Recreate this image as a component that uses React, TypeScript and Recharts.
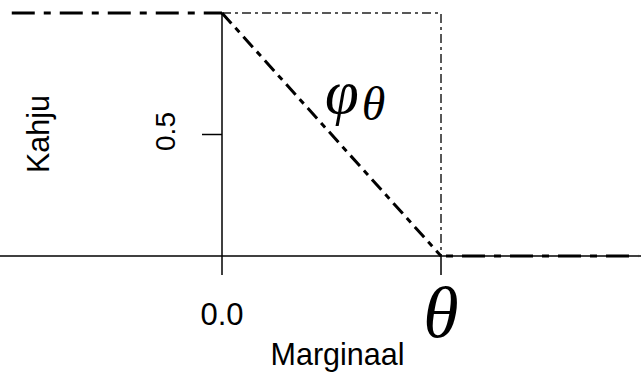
import { ComposedChart, Line, XAxis, YAxis, ReferenceLine, ReferenceDot, Customized } from 'recharts';

// step-shaped loss function: flat at 1, linear down to 0 at theta, flat at 0
const leftX = [-0.96, 0];
const leftY = [1, 1];
const diagX = [0, 1];
const diagY = [1, 0];
const rightX = [1, 1.9];
const rightY = [0, 0];
const boxX = [0, 1, 1];
const boxY = [1, 1, 0];

const xTicks = [0, 1];
const xTickLabels = ['0.0', 'θ'];
const yTick = 0.5;
const yTickLabel = '0.5';
const phiPos = { x: 0.47, y: 0.588 };

const pts = (xs: number[], ys: number[]) => xs.map((x, i) => ({ x, y: ys[i] }));

const SANS = '"Liberation Sans", Arial, sans-serif';
const SERIF = '"Liberation Serif", "Times New Roman", serif';

const XTick = (props: any) => {
  const { x, y, payload } = props;
  const i = xTicks.indexOf(payload.value);
  if (i === 1) {
    return (
      <text x={x} y={y + 60} textAnchor="middle" fontFamily={SERIF} fontStyle="italic" fontSize={72} fill="#000">
        {xTickLabels[i]}
      </text>
    );
  }
  return (
    <text x={x} y={y + 48} textAnchor="middle" fontFamily={SANS} fontSize={31} fill="#000">
      {xTickLabels[i]}
    </text>
  );
};

const YTickShape = (props: any) => {
  const { cx, cy } = props;
  return (
    <g>
      <line x1={cx - 20} y1={cy} x2={cx} y2={cy} stroke="#000" strokeWidth={1.5} />
      <text
        x={cx - 47}
        y={cy - 3}
        transform={`rotate(-90, ${cx - 47}, ${cy - 3})`}
        textAnchor="middle"
        fontFamily={SANS}
        fontSize={28}
        fill="#000"
      >
        {yTickLabel}
      </text>
    </g>
  );
};

const PhiShape = (props: any) => {
  const { cx, cy } = props;
  return (
    <text x={cx} y={cy} fontFamily={SERIF} fontStyle="italic" fill="#000">
      <tspan fontSize={61}>φ</tspan>
      <tspan fontSize={48} dx={3} dy={7}>θ</tspan>
    </text>
  );
};

const YLabel = () => (
  <text
    x={49}
    y={134}
    transform="rotate(-90, 49, 134)"
    textAnchor="middle"
    fontFamily={SANS}
    fontSize={30.5}
    fill="#000"
  >
    Kahju
  </text>
);

export default function App() {
  return (
    <div style={{ position: 'absolute', left: 0, top: 0, background: '#fff' }}>
      <ComposedChart width={641} height={372} margin={{ top: 13, right: 0, bottom: 0, left: 0 }}>
        <XAxis
          dataKey="x"
          type="number"
          domain={[-1.0137, 1.9132]}
          allowDataOverflow
          ticks={xTicks}
          tick={<XTick />}
          tickSize={19}
          height={116}
          axisLine={{ stroke: '#000', strokeWidth: 1.5 }}
          tickLine={{ stroke: '#000', strokeWidth: 1.5 }}
          label={{
            content: (p: any) => (
              <text
                x={p.viewBox.x + p.viewBox.width / 2 + 17}
                y={p.viewBox.y + p.viewBox.height - 7}
                textAnchor="middle"
                fontFamily={SANS}
                fontSize={30.5}
                fill="#000"
              >
                Marginaal
              </text>
            ),
          }}
        />
        <YAxis dataKey="y" type="number" domain={[0, 1]} hide />
        <ReferenceLine x={0} stroke="#000" strokeWidth={1.5} ifOverflow="visible" />
        <Line
          data={pts(boxX, boxY)}
          dataKey="y"
          stroke="#222"
          strokeWidth={1.5}
          strokeDasharray="9 4 3 4"
          dot={false}
          isAnimationActive={false}
        />
        <Line
          data={pts(leftX, leftY)}
          dataKey="y"
          stroke="#000"
          strokeWidth={3}
          strokeDasharray="23 9 7 9"
          dot={false}
          isAnimationActive={false}
        />
        <Line
          data={pts(diagX, diagY)}
          dataKey="y"
          stroke="#000"
          strokeWidth={3}
          strokeDasharray="14 6 6 6"
          dot={false}
          isAnimationActive={false}
        />
        <Line
          data={pts(rightX, rightY)}
          dataKey="y"
          stroke="#000"
          strokeWidth={3}
          strokeDasharray="23 9 7 9"
          strokeDashoffset={-21}
          dot={false}
          isAnimationActive={false}
        />
        <ReferenceDot x={0} y={yTick} shape={<YTickShape />} ifOverflow="visible" />
        <ReferenceDot x={phiPos.x} y={phiPos.y} shape={<PhiShape />} ifOverflow="visible" />
        <Customized component={YLabel} />
      </ComposedChart>
    </div>
  );
}
